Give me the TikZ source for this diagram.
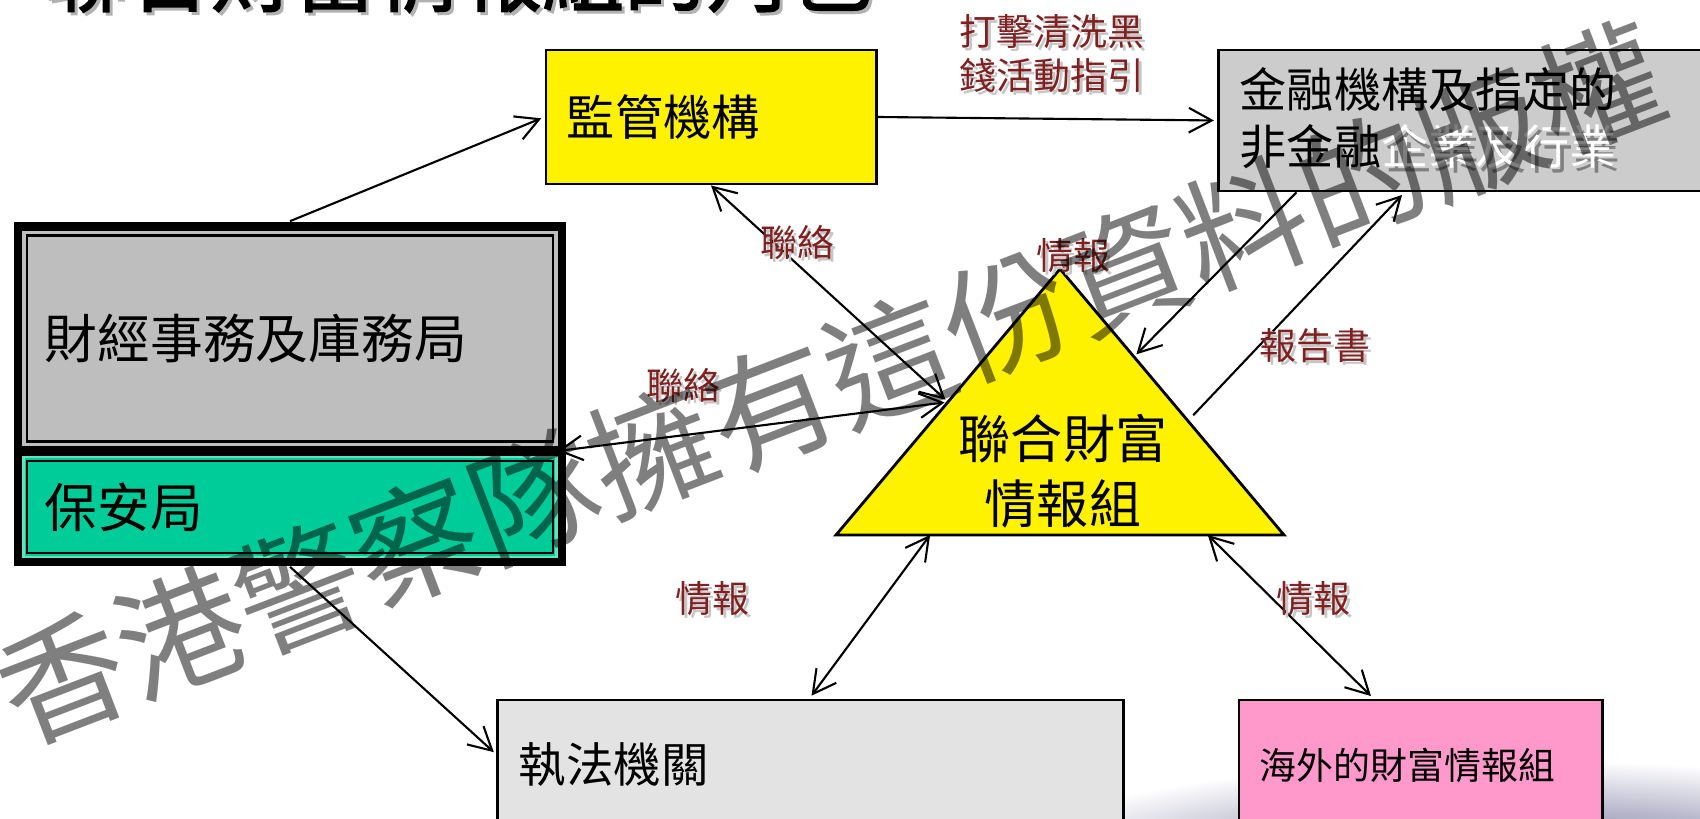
\documentclass[tikz,border=0pt]{standalone}
\usepackage{fontspec}
\setmainfont{Noto Sans CJK TC}[AutoFakeBold=2]
\usepackage{tikz}
\usetikzlibrary{arrows.meta,calc}

\definecolor{figray}{RGB}{204,204,204}
\definecolor{fstbgray}{RGB}{190,190,190}
\definecolor{sbgreen}{RGB}{0,204,153}
\definecolor{leagray}{RGB}{227,227,227}
\definecolor{fiupink}{RGB}{255,153,204}
\definecolor{labelred}{RGB}{128,32,32}
\newcommand{\shadowed}[1]{\makebox[0pt][l]{\hspace{1.2pt}\raisebox{-1.2pt}{\color{gray}#1}}{\color{white}#1}}
\newcommand{\lblshadow}[1]{\makebox[0pt][l]{\hspace{0.9pt}\raisebox{-0.9pt}{\color{gray!45}#1}}{\color{labelred}#1}}

\begin{document}
\begin{tikzpicture}[x=0.01cm, y=-0.01cm, shorten >=1pt,
box_style/.style={draw=black, line width=0.8pt, align=left, inner xsep=0.21cm, inner ysep=0pt},
label_style/.style={text=labelred, font=\fontsize{10.5pt}{12.5pt}\selectfont, align=center, inner sep=0pt},
edge_style/.style={draw=black, line width=0.6pt, -{Straight Barb[length=6.5pt,width=7pt]}},
both_style/.style={edge_style, {Straight Barb[length=6.5pt,width=7pt]}-{Straight Barb[length=6.5pt,width=7pt]}}]
\useasboundingbox (0,0) rectangle (1700,819);

\shade[inner color=gray!75!blue!80!black, outer color=white] (1520,880) ellipse (560 and 120);

\node[anchor=base west, text=gray!60, inner sep=0pt, font=\fontsize{23.5pt}{28pt}\selectfont\bfseries] at (48,8) {聯合財富情報組的角色};
\node[anchor=base west, inner sep=0pt, font=\fontsize{23.5pt}{28pt}\selectfont\bfseries] (title) at (45,5) {聯合財富情報組的角色};

\node[fill=black, minimum width=5.52cm, minimum height=3.44cm, inner sep=0pt] (outer) at (290,394) {};
\node[box_style, draw=gray!50, fill=fstbgray, text width=4.9cm, minimum height=2.13cm, font=\fontsize{15pt}{18pt}\selectfont] (fstb) at (290,338.5) {財經事務及庫務局};
\node[box_style, draw=sbgreen!60!white, fill=sbgreen, text width=4.9cm, minimum height=1.00cm, font=\fontsize{15pt}{18pt}\selectfont] (sb) at (290,507) {保安局};
\draw[line width=0.6pt] ($(fstb.north west)+(5,5)$) rectangle ($(fstb.south east)+(-5,-5)$);
\draw[line width=0.6pt] ($(sb.north west)+(5,5)$) rectangle ($(sb.south east)+(-5,-5)$);
\coordinate (sep) at ($(fstb.south east)!0.5!(sb.north east)$);

\node[box_style, fill=yellow, text width=2.88cm, minimum height=1.34cm, font=\fontsize{13.7pt}{16pt}\selectfont] (reg) at (711,117) {監管機構};
\node[box_style, fill=figray, text width=5.18cm, minimum height=1.41cm, font=\fontsize{13.4pt}{16.2pt}\selectfont] (fi) at (1499,120.5) {金融機構及指定的\\非金融\shadowed{企業及行業}};
\node[box_style, fill=leagray, text width=5.83cm, minimum height=1.30cm, font=\fontsize{13.5pt}{16pt}\selectfont] (lea) at (810.5,765) {執法機關};
\node[box_style, fill=fiupink, text width=3.21cm, minimum height=1.30cm, font=\fontsize{10.5pt}{12.6pt}\selectfont] (fiu) at (1420.5,765) {海外的財富情報組};

% triangle
\coordinate (apex) at (1060,269);
\coordinate (bl) at (836,535);
\coordinate (br) at (1284,535);
\filldraw[fill=yellow, draw=black, line width=0.8pt] (apex) -- (bl) -- (br) -- cycle;
\node[align=center, inner sep=0pt, font=\fontsize{14.8pt}{18.5pt}\selectfont] (jfiu) at (1063,471) {聯合財富\\情報組};
\coordinate (jl) at ($(bl)!0.5!(apex)$);
\coordinate (jr1) at ($(apex)!0.33!(br)$);
\coordinate (jr2) at ($(apex)!0.55!(br)+(10,0)$);
\coordinate (jb1) at ($(bl)!0.21!(br)$);
\coordinate (jb2) at ($(bl)!0.83!(br)$);

\draw[edge_style] (outer.north) -- (reg.west);
\draw[edge_style] (reg.east) -- (fi.west);
\draw[both_style] (reg.south) -- (jl);
\draw[both_style] (sep) -- (jl);
\draw[edge_style] ($(fi.south west)+(79,0)$) -- (jr1);
\draw[edge_style] (jr2) -- ($(fi.south west)+(187,0)$);
\draw[both_style] (jb1) -- ($(lea.north west)+(313,0)$);
\draw[both_style] (jb2) -- ($(fiu.north west)+(136,0)$);
\draw[edge_style] (outer.south) -- ($(lea.north west)+(0,56)$);

\node[label_style] (lbl_guide) at (1052,55) {\lblshadow{打擊清洗黑}\\\lblshadow{錢活動指引}};
\node[label_style] (lbl_liaison_a) at (797,244) {\lblshadow{聯絡}};
\node[label_style] (lbl_info_a) at (1073,257) {\lblshadow{情報}};
\node[label_style] (lbl_liaison_b) at (683,387) {\lblshadow{聯絡}};
\node[label_style] (lbl_report) at (1315,347) {\lblshadow{報告書}};
\node[label_style] (lbl_info_b) at (712,600) {\lblshadow{情報}};
\node[label_style] (lbl_info_c) at (1313,600) {\lblshadow{情報}};

\node[rotate=21, text=black, text opacity=0.5, inner sep=0pt, font=\fontsize{36pt}{42pt}\selectfont] (mark) at (830,383) {香港警察隊擁有這份資料的版權};

\end{tikzpicture}
\end{document}
